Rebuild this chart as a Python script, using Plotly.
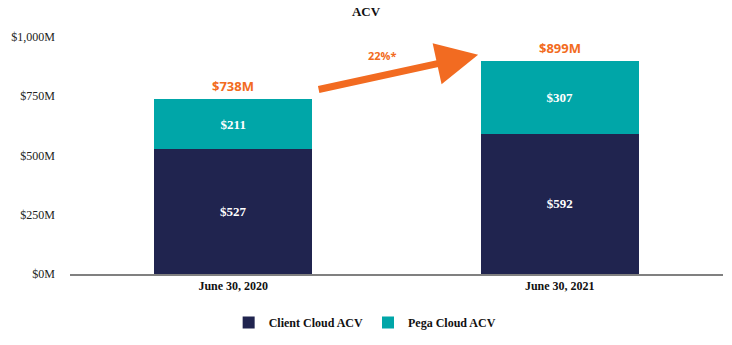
import plotly.graph_objects as go

categories = ["June 30, 2020", "June 30, 2021"]
client_cloud = [527, 592]
pega_cloud = [211, 307]
totals = [738, 899]
growth_label = "22%*"

NAVY = "#20244F"
TEAL = "#00A6A8"
ORANGE = "#F26B21"
SERIF = "Liberation Serif, Times New Roman, serif"
SANS = "Open Sans, Liberation Sans, sans-serif"

x_pos = list(range(len(categories)))

fig = go.Figure()
fig.add_bar(
    x=x_pos, y=client_cloud, name="<b>Client Cloud ACV</b>",
    marker=dict(color=NAVY, line=dict(width=0)), width=0.485,
    text=[f"<b>${v}</b>" for v in client_cloud], textposition="inside",
    insidetextanchor="middle",
    textfont=dict(family=SERIF, size=13, color="white"),
)
fig.add_bar(
    x=x_pos, y=pega_cloud, name="<b>Pega Cloud ACV</b>",
    marker=dict(color=TEAL, line=dict(width=0)), width=0.485,
    text=[f"<b>${v}</b>" for v in pega_cloud], textposition="inside",
    insidetextanchor="middle",
    textfont=dict(family=SERIF, size=13, color="white"),
)

# Totals above each stacked bar
for xi, t in zip(x_pos, totals):
    fig.add_annotation(
        x=xi, y=t, text=f"<b>${t}M</b>", showarrow=False,
        yanchor="bottom", yshift=2,
        font=dict(family=SANS, size=13, color=ORANGE),
    )

# Growth arrow between the two periods
fig.add_annotation(
    x=0.75, y=925, ax=0.257, ay=777,
    xref="x", yref="y", axref="x", ayref="y",
    text="", showarrow=True, arrowhead=2, arrowsize=1.2,
    arrowwidth=7, arrowcolor=ORANGE, standoff=0,
)
fig.add_annotation(
    x=0.457, y=920, text=f"<b>{growth_label}</b>", showarrow=False,
    font=dict(family=SANS, size=11, color=ORANGE),
)

fig.update_layout(
    barmode="stack",
    width=732, height=345,
    margin=dict(l=69.5, r=8.5, t=37, b=70),
    paper_bgcolor="white", plot_bgcolor="white",
    title=dict(text="<b>ACV</b>", x=0.5, xanchor="center", y=0.967,
               yanchor="middle",
               font=dict(family=SERIF, size=13, color="#111")),
    xaxis=dict(
        tickmode="array", tickvals=x_pos,
        ticktext=[f"<b>{c}</b>" for c in categories],
        range=[-0.5, 1.5], showgrid=False, showline=True,
        linecolor="#808080", linewidth=1.5, ticks="",
        tickfont=dict(family=SERIF, size=12, color="#111"),
    ),
    yaxis=dict(
        range=[0, 1000], tickvals=[0, 250, 500, 750, 1000],
        ticktext=["$0M", "$250M", "$500M", "$750M", "$1,000M"],
        showgrid=False, zeroline=False, showline=False, ticks="",
        ticklabelstandoff=14,
        tickfont=dict(family=SERIF, size=12, color="#222"),
    ),
    legend=dict(
        orientation="h", x=0.452, xanchor="center", y=-0.2,
        yanchor="middle", traceorder="normal",
        font=dict(family=SERIF, size=12, color="#111"),
        itemwidth=30,
    ),
    showlegend=True,
)
fig.update_traces(cliponaxis=False)

fig.write_html("out.html")
